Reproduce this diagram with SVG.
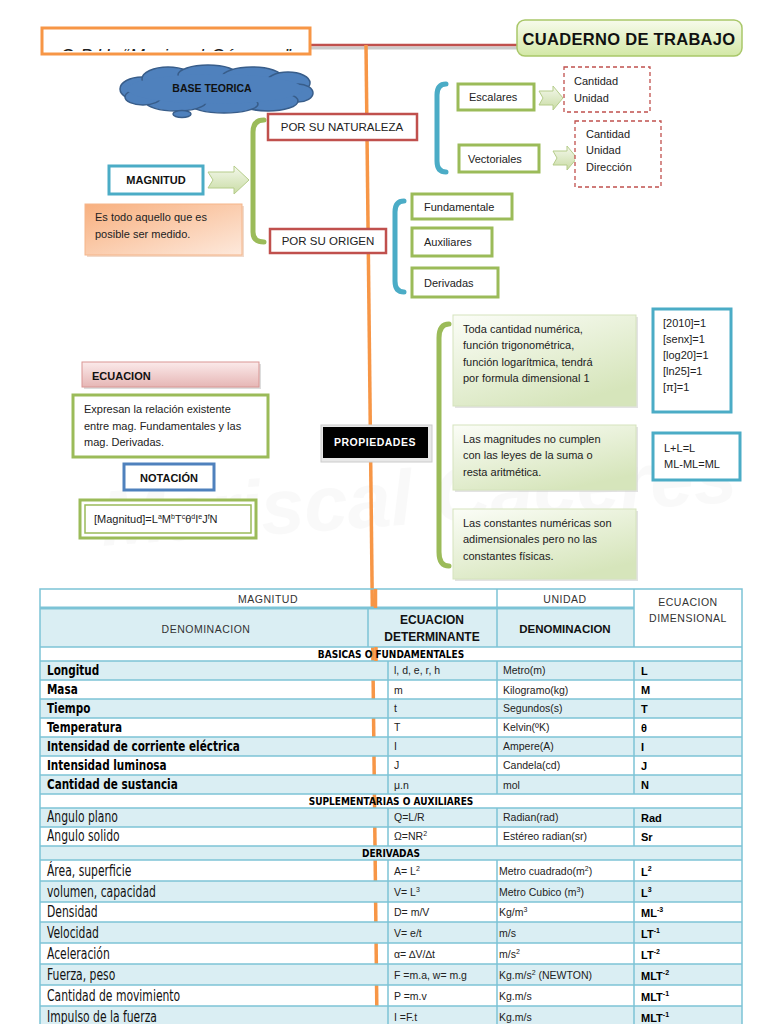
<svg xmlns="http://www.w3.org/2000/svg" width="768" height="1024" viewBox="0 0 768 1024">
<defs>
<style>
.t{font-family:"Liberation Sans",Arial,sans-serif;font-size:11px;fill:#222}
.b{font-family:"Liberation Sans",Arial,sans-serif;font-weight:bold;fill:#111}
.c{font-family:"Liberation Sans",Arial,sans-serif;font-size:11.5px;fill:#222;text-anchor:middle}
.n{font-family:"DejaVu Sans Condensed","Liberation Sans",sans-serif;font-size:15px;fill:#111}
.nb{font-family:"DejaVu Sans Condensed","Liberation Sans",sans-serif;font-size:14px;font-weight:bold;fill:#000}
.sec{font-family:"DejaVu Sans Condensed","Liberation Sans",sans-serif;font-size:10px;font-weight:bold;fill:#000;text-anchor:middle}
.cell{font-family:"Liberation Sans",Arial,sans-serif;font-size:10.5px;fill:#222}
.dim{font-family:"Liberation Sans",Arial,sans-serif;font-size:11px;font-weight:bold;fill:#000}
.hd{font-family:"Liberation Sans",Arial,sans-serif;font-size:10.5px;fill:#333;text-anchor:middle;letter-spacing:0.5px}
.gbox{fill:#fff;stroke:#9bbb59;stroke-width:3}
.rbox{fill:#fff;stroke:#c0504d;stroke-width:2.5}
.bbox{fill:#fff;stroke:#4bacc6;stroke-width:3}
.dash{fill:#fff;stroke:#c0504d;stroke-width:1.3;stroke-dasharray:4 3}
.br{fill:none;stroke-width:5;stroke-linecap:round}
.blue{fill:#daeef3}
.grid{stroke:#7cc3d6;stroke-width:1.5;fill:none}
.sup{font-size:7px}
</style>
<linearGradient id="garr" x1="0" y1="0" x2="0" y2="1"><stop offset="0" stop-color="#f4f8ec"/><stop offset="1" stop-color="#c9dca4"/></linearGradient>
<linearGradient id="gcua" x1="0" y1="0" x2="0" y2="1"><stop offset="0" stop-color="#f7fbec"/><stop offset="1" stop-color="#d3e8a6"/></linearGradient>
<linearGradient id="gpeach" x1="0" y1="0" x2="1" y2="1"><stop offset="0" stop-color="#f8b07f"/><stop offset="1" stop-color="#fde9dc"/></linearGradient>
<linearGradient id="gpink" x1="0" y1="0" x2="0" y2="1"><stop offset="0" stop-color="#fbeaea"/><stop offset="1" stop-color="#e6b6b5"/></linearGradient>
<linearGradient id="gprop" x1="0" y1="0" x2="0.6" y2="1"><stop offset="0" stop-color="#fbfdf7"/><stop offset="1" stop-color="#d6e5bb"/></linearGradient>
<clipPath id="clipT"><rect x="44" y="30" width="264" height="21"/></clipPath>
</defs>
<rect width="768" height="1024" fill="#fff"/>

<!-- watermark -->
<text x="100" y="525" font-family="Liberation Sans,Arial,sans-serif" font-size="78" font-style="italic" font-weight="bold" fill="#000" opacity="0.02" transform="rotate(-4 400 500)">Mariscal Cáceres</text>

<!-- connectors -->
<g id="connectors">
<line x1="310" y1="46" x2="518" y2="46" stroke="#999" stroke-width="3" opacity="0.5" transform="translate(0,2)"/>
<line x1="310" y1="45" x2="518" y2="45" stroke="#c0504d" stroke-width="2.5"/>
<line x1="366" y1="45" x2="377" y2="1024" stroke="#f79646" stroke-width="3.5"/>
<path class="br" stroke="#9bbb59" d="M264 120 Q253 120 253 132 L253 232 Q253 242 264 242"/>
<path class="br" stroke="#4bacc6" d="M446 84 Q437 84 437 95 L437 161 Q437 172 446 172"/>
<path class="br" stroke="#4bacc6" d="M404 201 Q395 201 395 212 L395 281 Q395 292 404 292"/>
<path class="br" stroke="#9bbb59" d="M449 324 Q439 324 439 338 L439 552 Q439 566 449 566"/>
<path d="M208 172 L234 172 L234 166 L249 180 L234 194 L234 188 L208 188 L213 180 Z" fill="url(#garr)" stroke="#b5cc8a" stroke-width="1"/>
<path d="M539 91 L553 91 L553 86 L563 98 L553 110 L553 105 L539 105 L543 98 Z" fill="url(#garr)" stroke="#b5cc8a" stroke-width="1"/>
<path d="M553 151 L567 151 L567 146 L577 158 L567 170 L567 165 L553 165 L557 158 Z" fill="url(#garr)" stroke="#b5cc8a" stroke-width="1"/>
</g>

<g id="title">
<rect x="42" y="28" width="268" height="26" fill="#fff" stroke="#f79646" stroke-width="3"/>
<text clip-path="url(#clipT)" x="176" y="62" font-family="Liberation Sans,Arial,sans-serif" font-size="18" font-style="italic" text-anchor="middle" fill="#222" letter-spacing="1">C.P.U. “Mariscal Cáceres”</text>
</g>

<g id="cuaderno">
<rect x="517" y="20" width="225" height="36" rx="8" fill="url(#gcua)" stroke="#a9c769" stroke-width="1.5"/>
<text class="b" x="629" y="45" font-size="16.5" text-anchor="middle" letter-spacing="0.3">CUADERNO DE TRABAJO</text>
</g>

<g id="base-teorica">
<g fill="#4f81bd" stroke="#385d8a" stroke-width="1.5">
<ellipse cx="142" cy="89" rx="22" ry="12"/>
<ellipse cx="168" cy="79" rx="26" ry="12"/>
<ellipse cx="208" cy="75" rx="30" ry="10"/>
<ellipse cx="252" cy="77" rx="30" ry="10"/>
<ellipse cx="288" cy="83" rx="22" ry="11"/>
<ellipse cx="298" cy="93" rx="15" ry="9"/>
<ellipse cx="268" cy="101" rx="30" ry="10"/>
<ellipse cx="224" cy="104" rx="34" ry="9"/>
<ellipse cx="176" cy="102" rx="30" ry="9"/>
<ellipse cx="143" cy="97" rx="18" ry="8"/>
<ellipse cx="182" cy="114" rx="9" ry="3.5"/>
</g>
<ellipse cx="215" cy="89" rx="88" ry="15" fill="#4f81bd"/>
<text class="b" x="212" y="92" font-size="10.5" text-anchor="middle">BASE TEORICA</text>
</g>

<g id="magnitud">
<rect x="109" y="166" width="94" height="28" class="bbox"/>
<text class="b" x="156" y="184" font-size="11" text-anchor="middle">MAGNITUD</text>
</g>

<g id="definicion">
<rect x="87" y="206" width="157" height="51" fill="#e8c2a8" opacity="0.6"/>
<rect x="85" y="204" width="157" height="51" fill="url(#gpeach)" stroke="#f5b58a" stroke-width="1"/>
<text class="t" x="95" y="221">Es todo aquello que es</text>
<text class="t" x="95" y="238">posible ser medido.</text>
</g>

<g id="naturaleza">
<rect x="268" y="114" width="149" height="26" class="rbox"/>
<text class="c" x="342" y="131">POR SU NATURALEZA</text>
</g>

<g id="origen">
<rect x="270" y="229" width="116" height="24" class="rbox"/>
<text class="c" x="328" y="245">POR SU ORIGEN</text>
</g>

<g id="escalares">
<rect x="458" y="84" width="76" height="26" class="gbox"/>
<text class="t" x="469" y="101">Escalares</text>
</g>
<g id="escalares-det">
<rect x="564" y="67" width="86" height="45" class="dash"/>
<text class="t" x="574" y="85">Cantidad</text>
<text class="t" x="574" y="102">Unidad</text>
</g>

<g id="vectoriales">
<rect x="459" y="145" width="80" height="27" class="gbox"/>
<text class="t" x="468" y="163">Vectoriales</text>
</g>
<g id="vectoriales-det">
<rect x="575" y="121" width="86" height="66" class="dash"/>
<text class="t" x="586" y="138">Cantidad</text>
<text class="t" x="586" y="154">Unidad</text>
<text class="t" x="586" y="171">Dirección</text>
</g>

<g id="fundamentale">
<rect x="412" y="194" width="100" height="25" class="gbox"/>
<text class="t" x="424" y="211">Fundamentale</text>
</g>
<g id="auxiliares">
<rect x="412" y="228" width="80" height="28" class="gbox"/>
<text class="t" x="424" y="246">Auxiliares</text>
</g>
<g id="derivadas">
<rect x="412" y="268" width="86" height="29" class="gbox"/>
<text class="t" x="424" y="287">Derivadas</text>
</g>

<g id="ecuacion">
<rect x="84" y="364" width="177" height="25" fill="#bbb" opacity="0.5"/>
<rect x="82" y="362" width="177" height="25" fill="url(#gpink)" stroke="#d99694" stroke-width="1"/>
<text class="b" x="92" y="380" font-size="11">ECUACION</text>
</g>

<g id="ecuacion-def">
<rect x="73" y="395" width="195" height="62" class="gbox"/>
<text class="t" x="84" y="413">Expresan la relación existente</text>
<text class="t" x="84" y="430">entre mag. Fundamentales y las</text>
<text class="t" x="84" y="446">mag. Derivadas.</text>
</g>

<g id="notacion">
<rect x="124" y="464" width="90" height="26" fill="#fff" stroke="#4f81bd" stroke-width="3"/>
<text class="b" x="169" y="482" font-size="11" text-anchor="middle">NOTACIÓN</text>
</g>

<g id="formula">
<rect x="80" y="500" width="176" height="38" fill="#fff" stroke="#9bbb59" stroke-width="3"/>
<rect x="85" y="505" width="166" height="28" fill="none" stroke="#9bbb59" stroke-width="1.5"/>
<text class="t" x="94" y="523" font-size="11">[Magnitud]=L<tspan class="sup" dy="-4">a</tspan><tspan dy="4">M</tspan><tspan class="sup" dy="-4">b</tspan><tspan dy="4">T</tspan><tspan class="sup" dy="-4">c</tspan><tspan dy="4">θ</tspan><tspan class="sup" dy="-4">d</tspan><tspan dy="4">I</tspan><tspan class="sup" dy="-4">e</tspan><tspan dy="4">J</tspan><tspan class="sup" dy="-4">f</tspan><tspan dy="4">N</tspan></text>
</g>

<g id="propiedades">
<rect x="321" y="425" width="111" height="37" fill="#e8e8e8" stroke="#ccc" stroke-width="1"/>
<rect x="323" y="427" width="105" height="31" fill="#000"/>
<text class="b" x="375" y="446" font-size="10.5" text-anchor="middle" style="fill:#fff" letter-spacing="0.5">PROPIEDADES</text>
</g>

<g id="prop1">
<rect x="455" y="317" width="183" height="91" fill="#c8c8c8" opacity="0.5"/>
<rect x="453" y="315" width="183" height="91" fill="url(#gprop)" stroke="#d5e3bd" stroke-width="1"/>
<text class="t" x="463" y="333">Toda cantidad numérica,</text>
<text class="t" x="463" y="349">función trigonométrica,</text>
<text class="t" x="463" y="366">función logarítmica, tendrá</text>
<text class="t" x="463" y="382">por formula dimensional 1</text>
</g>
<g id="prop2">
<rect x="455" y="427" width="183" height="65" fill="#c8c8c8" opacity="0.5"/>
<rect x="453" y="425" width="183" height="65" fill="url(#gprop)" stroke="#d5e3bd" stroke-width="1"/>
<text class="t" x="463" y="443">Las magnitudes no cumplen</text>
<text class="t" x="463" y="459">con las leyes de la suma o</text>
<text class="t" x="463" y="476">resta aritmética.</text>
</g>
<g id="prop3">
<rect x="455" y="511" width="183" height="70" fill="#c8c8c8" opacity="0.5"/>
<rect x="453" y="509" width="183" height="70" fill="url(#gprop)" stroke="#d5e3bd" stroke-width="1"/>
<text class="t" x="463" y="527">Las constantes numéricas son</text>
<text class="t" x="463" y="543">adimensionales pero no las</text>
<text class="t" x="463" y="560">constantes físicas.</text>
</g>

<g id="ejemplos1">
<rect x="653" y="309" width="78" height="103" class="bbox"/>
<text class="t" x="663" y="327">[2010]=1</text>
<text class="t" x="663" y="343">[senx]=1</text>
<text class="t" x="663" y="359">[log20]=1</text>
<text class="t" x="663" y="375">[ln25]=1</text>
<text class="t" x="663" y="391">[π]=1</text>
</g>
<g id="ejemplos2">
<rect x="653" y="433" width="87" height="47" class="bbox"/>
<text class="t" x="664" y="452">L+L=L</text>
<text class="t" x="664" y="468">ML-ML=ML</text>
</g>

<!-- table -->
<g id="tabla">
<rect class="blue" x="40" y="608" width="594" height="39"/>
<rect class="blue" x="40" y="661" width="702" height="19"/>
<rect class="blue" x="40" y="699" width="702" height="19"/>
<rect class="blue" x="40" y="737" width="702" height="19"/>
<rect class="blue" x="40" y="775" width="702" height="19"/>
<rect class="blue" x="40" y="808" width="702" height="19"/>
<rect class="blue" x="40" y="846" width="702" height="14"/>
<rect class="blue" x="40" y="881" width="702" height="21"/>
<rect class="blue" x="40" y="922" width="702" height="21"/>
<rect class="blue" x="40" y="964" width="702" height="21"/>
<rect class="blue" x="40" y="1006" width="702" height="20"/>
<g class="grid">
<rect x="40" y="589" width="702" height="440"/>
<line x1="40" y1="608" x2="634" y2="608" stroke-width="3"/>
<line x1="40" y1="647" x2="742" y2="647"/>
<line x1="40" y1="661" x2="742" y2="661"/>
<line x1="40" y1="680" x2="742" y2="680"/>
<line x1="40" y1="699" x2="742" y2="699"/>
<line x1="40" y1="718" x2="742" y2="718"/>
<line x1="40" y1="737" x2="742" y2="737"/>
<line x1="40" y1="756" x2="742" y2="756"/>
<line x1="40" y1="775" x2="742" y2="775"/>
<line x1="40" y1="794" x2="742" y2="794"/>
<line x1="40" y1="808" x2="742" y2="808"/>
<line x1="40" y1="827" x2="742" y2="827"/>
<line x1="40" y1="846" x2="742" y2="846"/>
<line x1="40" y1="860" x2="742" y2="860"/>
<line x1="40" y1="881" x2="742" y2="881"/>
<line x1="40" y1="902" x2="742" y2="902"/>
<line x1="40" y1="922" x2="742" y2="922"/>
<line x1="40" y1="943" x2="742" y2="943"/>
<line x1="40" y1="964" x2="742" y2="964"/>
<line x1="40" y1="985" x2="742" y2="985"/>
<line x1="40" y1="1006" x2="742" y2="1006"/>
<line x1="497" y1="589" x2="497" y2="647"/>
<line x1="634" y1="589" x2="634" y2="647"/>
<line x1="368" y1="608" x2="368" y2="647"/>
<line x1="388" y1="661" x2="388" y2="794"/>
<line x1="497" y1="661" x2="497" y2="794"/>
<line x1="634" y1="661" x2="634" y2="794"/>
<line x1="388" y1="808" x2="388" y2="846"/>
<line x1="497" y1="808" x2="497" y2="846"/>
<line x1="634" y1="808" x2="634" y2="846"/>
<line x1="388" y1="860" x2="388" y2="1024"/>
<line x1="497" y1="860" x2="497" y2="1024"/>
<line x1="634" y1="860" x2="634" y2="1024"/>
</g>
<line x1="375.5" y1="589" x2="375.5" y2="608" stroke="#f79646" stroke-width="3.5"/>
<line x1="376" y1="647" x2="376" y2="661" stroke="#f79646" stroke-width="3.5"/>

<text class="hd" x="268" y="603">MAGNITUD</text>
<text class="hd" x="565" y="603">UNIDAD</text>
<text class="hd" x="688" y="606">ECUACION</text>
<text class="hd" x="688" y="622">DIMENSIONAL</text>
<text class="hd" x="206" y="633" font-size="11">DENOMINACION</text>
<text class="b" x="432" y="624" font-size="12" text-anchor="middle">ECUACION</text>
<text class="b" x="432" y="641" font-size="12" text-anchor="middle">DETERMINANTE</text>
<text class="b" x="565" y="633" font-size="11.5" text-anchor="middle">DENOMINACION</text>

<text class="sec" x="391" y="658">BASICAS O FUNDAMENTALES</text>
<text class="sec" x="391" y="805">SUPLEMENTARIAS O AUXILIARES</text>
<text class="sec" x="391" y="857">DERIVADAS</text>

<g transform="scale(0.83,1)">
<text class="nb" x="56.6" y="675">Longitud</text>
<text class="nb" x="56.6" y="694">Masa</text>
<text class="nb" x="56.6" y="713">Tiempo</text>
<text class="nb" x="56.6" y="732">Temperatura</text>
<text class="nb" x="56.6" y="751">Intensidad de corriente eléctrica</text>
<text class="nb" x="56.6" y="770">Intensidad luminosa</text>
<text class="nb" x="56.6" y="789">Cantidad de sustancia</text>
</g>
<g transform="scale(0.8,1)">
<text class="n" x="58.75" y="822">Angulo plano</text>
<text class="n" x="58.75" y="841">Angulo solido</text>
<text class="n" x="58.75" y="876">Área, superficie</text>
<text class="n" x="58.75" y="897">volumen, capacidad</text>
<text class="n" x="58.75" y="917">Densidad</text>
<text class="n" x="58.75" y="938">Velocidad</text>
<text class="n" x="58.75" y="959">Aceleración</text>
<text class="n" x="58.75" y="980">Fuerza, peso</text>
<text class="n" x="58.75" y="1001">Cantidad de movimiento</text>
<text class="n" x="58.75" y="1022">Impulso de la fuerza</text>
</g>

<text class="cell" x="394" y="674">l, d, e, r, h</text>
<text class="cell" x="394" y="694">m</text>
<text class="cell" x="394" y="712">t</text>
<text class="cell" x="394" y="731">T</text>
<text class="cell" x="394" y="750">I</text>
<text class="cell" x="394" y="769">J</text>
<text class="cell" x="394" y="789">μ.n</text>
<text class="cell" x="394" y="821">Q=L/R</text>
<text class="cell" x="394" y="840">Ω=NR<tspan class="sup" dy="-4">2</tspan></text>
<text class="cell" x="394" y="875">A= L<tspan class="sup" dy="-4">2</tspan></text>
<text class="cell" x="394" y="896">V= L<tspan class="sup" dy="-4">3</tspan></text>
<text class="cell" x="394" y="916">D= m/V</text>
<text class="cell" x="394" y="937">V= e/t</text>
<text class="cell" x="394" y="958">α= ∆V/∆t</text>
<text class="cell" x="394" y="979">F =m.a, w= m.g</text>
<text class="cell" x="394" y="1000">P =m.v</text>
<text class="cell" x="394" y="1021">I =F.t</text>

<text class="cell" x="503" y="674">Metro(m)</text>
<text class="cell" x="503" y="694">Kilogramo(kg)</text>
<text class="cell" x="503" y="712">Segundos(s)</text>
<text class="cell" x="503" y="731">Kelvin(ºK)</text>
<text class="cell" x="503" y="750">Ampere(A)</text>
<text class="cell" x="503" y="769">Candela(cd)</text>
<text class="cell" x="503" y="789">mol</text>
<text class="cell" x="503" y="821">Radian(rad)</text>
<text class="cell" x="503" y="840">Estéreo radian(sr)</text>
<text class="cell" x="499" y="875">Metro cuadrado(m<tspan class="sup" dy="-4">2</tspan><tspan dy="4">)</tspan></text>
<text class="cell" x="499" y="896">Metro Cubico (m<tspan class="sup" dy="-4">3</tspan><tspan dy="4">)</tspan></text>
<text class="cell" x="499" y="916">Kg/m<tspan class="sup" dy="-4">3</tspan></text>
<text class="cell" x="499" y="937">m/s</text>
<text class="cell" x="499" y="958">m/s<tspan class="sup" dy="-4">2</tspan></text>
<text class="cell" x="499" y="979">Kg.m/s<tspan class="sup" dy="-4">2</tspan><tspan dy="4"> (NEWTON)</tspan></text>
<text class="cell" x="499" y="1000">Kg.m/s</text>
<text class="cell" x="499" y="1021">Kg.m/s</text>

<text class="dim" x="641" y="675">L</text>
<text class="dim" x="641" y="694">M</text>
<text class="dim" x="641" y="713">T</text>
<text class="dim" x="641" y="732">θ</text>
<text class="dim" x="641" y="751">I</text>
<text class="dim" x="641" y="770">J</text>
<text class="dim" x="641" y="789">N</text>
<text class="dim" x="641" y="822">Rad</text>
<text class="dim" x="641" y="841">Sr</text>
<text class="dim" x="641" y="876">L<tspan class="sup" dy="-5">2</tspan></text>
<text class="dim" x="641" y="897">L<tspan class="sup" dy="-5">3</tspan></text>
<text class="dim" x="641" y="917">ML<tspan class="sup" dy="-5">-3</tspan></text>
<text class="dim" x="641" y="938">LT<tspan class="sup" dy="-5">-1</tspan></text>
<text class="dim" x="641" y="959">LT<tspan class="sup" dy="-5">-2</tspan></text>
<text class="dim" x="641" y="980">MLT<tspan class="sup" dy="-5">-2</tspan></text>
<text class="dim" x="641" y="1001">MLT<tspan class="sup" dy="-5">-1</tspan></text>
<text class="dim" x="641" y="1022">MLT<tspan class="sup" dy="-5">-1</tspan></text>
</g>
</svg>
